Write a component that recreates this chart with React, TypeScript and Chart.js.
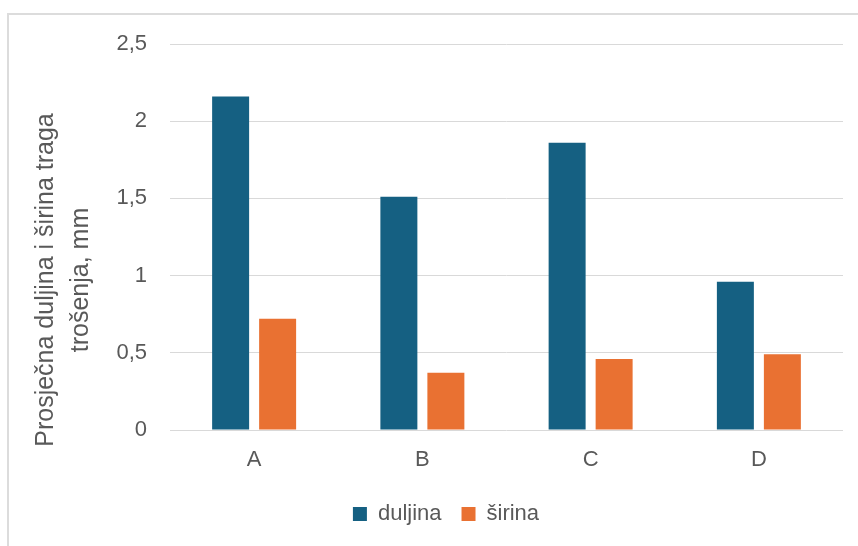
import React, { useEffect, useRef } from "react";
import { Chart, registerables } from "chart.js";

Chart.register(...registerables);

const categories = ["A", "B", "C", "D"];
const duljina = [2.16, 1.51, 1.86, 0.96];
const sirina = [0.72, 0.37, 0.46, 0.49];
const seriesNames = ["duljina", "širina"];
const seriesColors = ["#156082", "#E97132"];
const yTitleLines = ["Prosječna duljina i širina traga", "trošenja, mm"];
const yMin = 0;
const yMax = 2.5;
const yStep = 0.5;

const FONT = "'Liberation Sans', Arial, sans-serif";
const TEXT = "#595959";

const yTitlePlugin = {
  id: "yTitleLines",
  afterDraw(chart: any) {
    const ctx = chart.ctx;
    ctx.save();
    ctx.fillStyle = TEXT;
    ctx.font = `25px ${FONT}`;
    ctx.textAlign = "center";
    ctx.textBaseline = "alphabetic";
    const baselines = [53, 88];
    yTitleLines.forEach((line, i) => {
      ctx.save();
      ctx.translate(baselines[i], 280);
      ctx.rotate(-Math.PI / 2);
      ctx.fillText(line, 0, 0);
      ctx.restore();
    });
    ctx.restore();
  },
};

export default function App() {
  const ref = useRef<HTMLCanvasElement | null>(null);

  useEffect(() => {
    if (!ref.current) return;
    const chart = new Chart(ref.current, {
      type: "bar",
      data: {
        labels: categories,
        datasets: [
          {
            label: seriesNames[0],
            data: duljina,
            backgroundColor: seriesColors[0],
            borderWidth: 0,
            categoryPercentage: 0.5587,
            barPercentage: 0.787,
          },
          {
            label: seriesNames[1],
            data: sirina,
            backgroundColor: seriesColors[1],
            borderWidth: 0,
            categoryPercentage: 0.5587,
            barPercentage: 0.787,
          },
        ],
      },
      options: {
        animation: false,
        responsive: false,
        layout: { padding: { left: 49, right: 15, top: 44, bottom: 11 } },
        plugins: {
          tooltip: { enabled: false },
          legend: {
            position: "bottom",
            labels: {
              color: TEXT,
              font: { family: FONT, size: 22 },
              boxWidth: 14,
              boxHeight: 14,
              padding: 20,
            },
          },
        },
        scales: {
          x: {
            grid: { display: false, drawTicks: false },
            border: { display: false },
            ticks: { color: TEXT, font: { family: FONT, size: 22 }, padding: 17 },
            afterFit: (scale: any) => {
              scale.height = 53;
            },
          },
          y: {
            min: yMin,
            max: yMax,
            grid: { color: "#d9d9d9", lineWidth: 1, drawTicks: false },
            border: { display: false },
            ticks: {
              stepSize: yStep,
              color: TEXT,
              font: { family: FONT, size: 22 },
              padding: 23,
              callback: (v: any) => String(v).replace(".", ","),
            },
            afterFit: (scale: any) => {
              scale.width = 121;
            },
          },
        },
      },
      plugins: [yTitlePlugin],
    });
    return () => chart.destroy();
  }, []);

  return (
    <div
      style={{
        position: "fixed",
        left: 0,
        top: 0,
        width: 858,
        height: 546,
        overflow: "hidden",
        background: "#fff",
      }}
    >
      <div
        style={{
          position: "absolute",
          left: 7,
          top: 13,
          width: 2000,
          height: 2000,
          border: "2px solid #dcdcdc",
        }}
      />
      <canvas
        ref={ref}
        width={858}
        height={546}
        style={{ position: "absolute", left: 0, top: 0, width: 858, height: 546 }}
      />
    </div>
  );
}
